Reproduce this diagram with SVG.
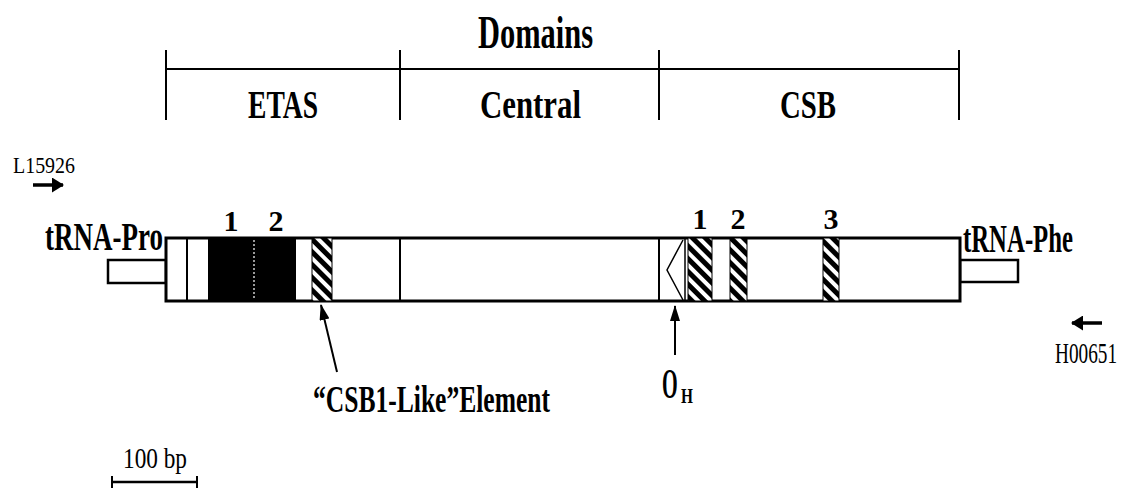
<svg xmlns="http://www.w3.org/2000/svg" width="1127" height="488" viewBox="0 0 1127 488">
  <style>
    .lbl { font-family: "Liberation Serif", "Times New Roman", serif; font-weight: bold; fill: #000; }
    .thin { font-family: "Liberation Serif", "Times New Roman", serif; font-weight: normal; fill: #000; }
    .ln { stroke: #000; fill: none; }
  </style>
  <defs>
    <pattern id="hatch" patternUnits="userSpaceOnUse" width="9" height="9" patternTransform="rotate(45)">
      <rect x="0" y="0" width="9" height="9" fill="#fff"/>
      <rect x="0" y="0" width="9" height="5" fill="#000"/>
    </pattern>
    <!-- short, wide head for the primer arrows -->
    <marker id="head" viewBox="0 0 12 15" refX="11" refY="7.5" markerWidth="12" markerHeight="15" orient="auto" markerUnits="userSpaceOnUse">
      <path d="M0,0 L12,7.5 L0,15 z" fill="#000"/>
    </marker>
    <!-- longer, narrow head for the pointer arrows -->
    <marker id="pointer" viewBox="0 0 16 10" refX="15" refY="5" markerWidth="16" markerHeight="10" orient="auto" markerUnits="userSpaceOnUse">
      <path d="M0,0 L16,5 L0,10 z" fill="#000"/>
    </marker>
  </defs>
  <rect width="1127" height="488" fill="#fff"/>

  <!-- domain ruler -->
  <g id="domains">
    <text class="lbl" x="478" y="48" font-size="46" textLength="115" lengthAdjust="spacingAndGlyphs">Domains</text>
    <line class="ln" x1="166" y1="69" x2="959" y2="69" stroke-width="2"/>
    <line class="ln" x1="166" y1="50" x2="166" y2="120" stroke-width="2"/>
    <line class="ln" x1="400" y1="50" x2="400" y2="120" stroke-width="2"/>
    <line class="ln" x1="659" y1="50" x2="659" y2="120" stroke-width="2"/>
    <line class="ln" x1="959" y1="50" x2="959" y2="120" stroke-width="2"/>
    <text class="lbl" x="248" y="118" font-size="40" textLength="70" lengthAdjust="spacingAndGlyphs">ETAS</text>
    <text class="lbl" x="480" y="118" font-size="40" textLength="101" lengthAdjust="spacingAndGlyphs">Central</text>
    <text class="lbl" x="780" y="118" font-size="40" textLength="56" lengthAdjust="spacingAndGlyphs">CSB</text>
  </g>

  <!-- flanking tRNA genes -->
  <g id="trna-pro">
    <rect class="ln" x="108" y="260" width="58" height="23" stroke-width="2.5" fill="#fff"/>
    <text class="lbl" x="45" y="250" font-size="40" textLength="118" lengthAdjust="spacingAndGlyphs">tRNA-Pro</text>
  </g>
  <g id="trna-phe">
    <rect class="ln" x="960" y="260" width="58" height="22" stroke-width="2.5" fill="#fff"/>
    <text class="lbl" x="963" y="252" font-size="40" textLength="110" lengthAdjust="spacingAndGlyphs">tRNA-Phe</text>
  </g>

  <!-- control region -->
  <g id="control-region">
    <rect x="166" y="238" width="794" height="63" fill="#fff" stroke="#000" stroke-width="3"/>
    <line class="ln" x1="187" y1="238" x2="187" y2="301" stroke-width="2"/>
    <line class="ln" x1="400" y1="238" x2="400" y2="301" stroke-width="2"/>
    <line class="ln" x1="659" y1="238" x2="659" y2="301" stroke-width="2"/>
  </g>

  <!-- ETAS blocks -->
  <g id="etas-blocks">
    <rect x="208" y="238" width="88" height="63" fill="#000"/>
    <line x1="254" y1="240" x2="254" y2="299" stroke="#fff" stroke-width="1.2" stroke-dasharray="2,2"/>
    <text class="lbl" x="231" y="231" font-size="30" text-anchor="middle">1</text>
    <text class="lbl" x="276" y="231" font-size="30" text-anchor="middle">2</text>
  </g>

  <g id="csb1-like">
    <rect x="312" y="238" width="20" height="63" fill="url(#hatch)" stroke="#000" stroke-width="1"/>
    <text class="lbl" x="313" y="412" font-size="38" textLength="237" lengthAdjust="spacingAndGlyphs">“CSB1-Like”Element</text>
  </g>

  <!-- origin of heavy-strand replication: O with subscript H, narrowed -->
  <g id="oh">
    <polyline class="ln" points="683,240 667,270 683,300" stroke-width="1.5"/>
    <text class="lbl" font-size="42" transform="translate(662,398) scale(0.48,1)">O</text>
    <text class="lbl" font-size="22" transform="translate(681,403) scale(0.7,1)">H</text>
  </g>

  <!-- conserved sequence blocks -->
  <g id="csb1">
    <line class="ln" x1="685" y1="238" x2="685" y2="301" stroke-width="1.5"/>
    <rect x="688" y="238" width="24" height="63" fill="url(#hatch)" stroke="#000" stroke-width="1"/>
    <text class="lbl" x="700" y="229" font-size="30" text-anchor="middle">1</text>
  </g>
  <g id="csb2">
    <rect x="730" y="238" width="17" height="63" fill="url(#hatch)" stroke="#000" stroke-width="1"/>
    <text class="lbl" x="738" y="229" font-size="30" text-anchor="middle">2</text>
  </g>
  <g id="csb3">
    <rect x="823" y="238" width="16" height="63" fill="url(#hatch)" stroke="#000" stroke-width="1"/>
    <text class="lbl" x="831" y="229" font-size="30" text-anchor="middle">3</text>
  </g>

  <!-- primers -->
  <g id="primer-l15926">
    <text class="thin" x="13" y="173" font-size="24" textLength="62" lengthAdjust="spacingAndGlyphs">L15926</text>
  </g>
  <g id="primer-h00651">
    <text class="thin" x="1055" y="363" font-size="30" textLength="62" lengthAdjust="spacingAndGlyphs">H00651</text>
  </g>

  <!-- scale bar -->
  <g id="scale">
    <text class="thin" x="123" y="468" font-size="30" textLength="64" lengthAdjust="spacingAndGlyphs">100 bp</text>
    <line class="ln" x1="112" y1="482" x2="197" y2="482" stroke-width="2.5"/>
    <line class="ln" x1="112" y1="476" x2="112" y2="488" stroke-width="2"/>
    <line class="ln" x1="197" y1="476" x2="197" y2="488" stroke-width="2"/>
  </g>

  <!-- arrows -->
  <g id="connectors">
    <line class="ln" x1="33" y1="185" x2="63" y2="185" stroke-width="3.5" marker-end="url(#head)"/>
    <line class="ln" x1="1102" y1="323" x2="1072" y2="323" stroke-width="3.5" marker-end="url(#head)"/>
    <line class="ln" x1="337" y1="372" x2="321" y2="305" stroke-width="2" marker-end="url(#pointer)"/>
    <line class="ln" x1="675" y1="355" x2="675" y2="306" stroke-width="2" marker-end="url(#pointer)"/>
  </g>
</svg>
